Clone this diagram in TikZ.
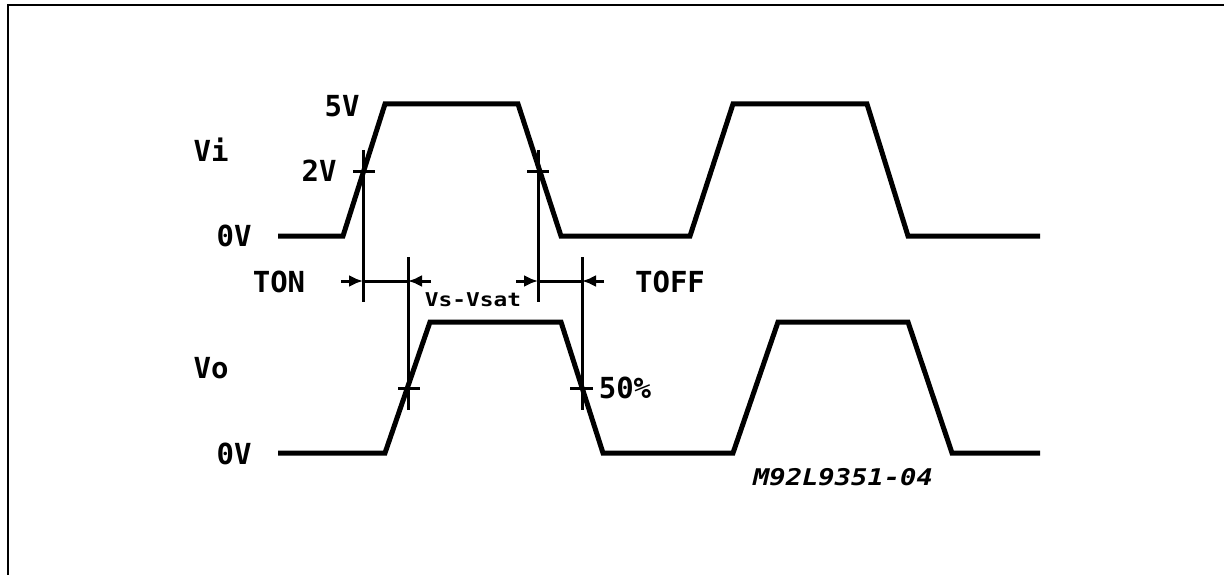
\documentclass[tikz,border=0pt]{standalone}
\usepackage{fontspec}
\setmonofont{DejaVu Sans Mono}
\usetikzlibrary{arrows.meta}
\tikzset{
  wave/.style={line width=5pt, line join=miter},
  marker/.style={line width=3pt},
  frame/.style={line width=2.5pt},
  dimarrow/.style={line width=3pt, -{Latex[length=14pt,width=12pt]}},
  lbl/.style={font=\ttfamily\bfseries\fontsize{29}{30}\selectfont, anchor=base, inner sep=0pt},
  smalllbl/.style={font=\ttfamily\bfseries\fontsize{19}{20}\selectfont, anchor=base, inner sep=0pt, xscale=1.2},
  reflbl/.style={font=\ttfamily\bfseries\itshape\fontsize{23}{24}\selectfont, anchor=base, inner sep=0pt, xscale=1.18}
}
\begin{document}
\begin{tikzpicture}[x=1pt,y=-1pt]
\useasboundingbox (0,0) rectangle (1224,575);
% frame
\draw[frame] (8,575) -- (8,5) -- (1224,5);
% Vi waveform
\draw[wave] (278,236) -- (343,236) -- (385,104) -- (518,104) -- (561,236) -- (690,236) -- (733,104) -- (867,104) -- (908,236) -- (1040,236);
% Vo waveform
\draw[wave] (278,453) -- (385,453) -- (430,322) -- (561,322) -- (603,453) -- (733,453) -- (778,322) -- (908,322) -- (952,453) -- (1040,453);
% marker coordinates
\coordinate (a1) at (363,150); \coordinate (a2) at (363,302);
\coordinate (b1) at (408,257); \coordinate (b2) at (408,410);
\coordinate (c1) at (538,150); \coordinate (c2) at (538,302);
\coordinate (d1) at (582,257); \coordinate (d2) at (582,410);
\draw[marker] (a1) -- (a2);
\draw[marker] (b1) -- (b2);
\draw[marker] (c1) -- (c2);
\draw[marker] (d1) -- (d2);
% level ticks
\draw[marker] (353,172) -- (375,172);
\draw[marker] (527,172) -- (549,172);
\draw[marker] (398,388) -- (420,388);
\draw[marker] (570,388) -- (593,388);
% dimension arrows
\coordinate (ton) at (363,281); \coordinate (ton2) at (408,281);
\coordinate (toff) at (538,281); \coordinate (toff2) at (582,281);
\coordinate (tonL) at (341,281); \coordinate (tonR) at (431,281);
\coordinate (toffL) at (516,281); \coordinate (toffR) at (604,281);
\draw[dimarrow] (tonL) -- (ton);
\draw[marker] (ton) -- (ton2);
\draw[dimarrow] (tonR) -- (ton2);
\draw[dimarrow] (toffL) -- (toff);
\draw[marker] (toff) -- (toff2);
\draw[dimarrow] (toffR) -- (toff2);
% labels
\node[lbl] (vi) at (211,161) {Vi};
\node[lbl] (v5) at (342,117) {5V};
\node[lbl] (v2) at (319,182) {2V};
\node[lbl] (v0a) at (234,246) {0V};
\node[lbl] (tonl) at (279,292) {TON};
\node[lbl] (toffl) at (670,292) {TOFF};
\node[smalllbl] (vs) at (473,306) {Vs-Vsat};
\node[lbl] (vo) at (211,378) {Vo};
\node[lbl] (p50) at (625,398) {50\%};
\node[lbl] (v0b) at (234,464) {0V};
\node[reflbl] (ref) at (843,485) {M92L9351-04};
\end{tikzpicture}
\end{document}
